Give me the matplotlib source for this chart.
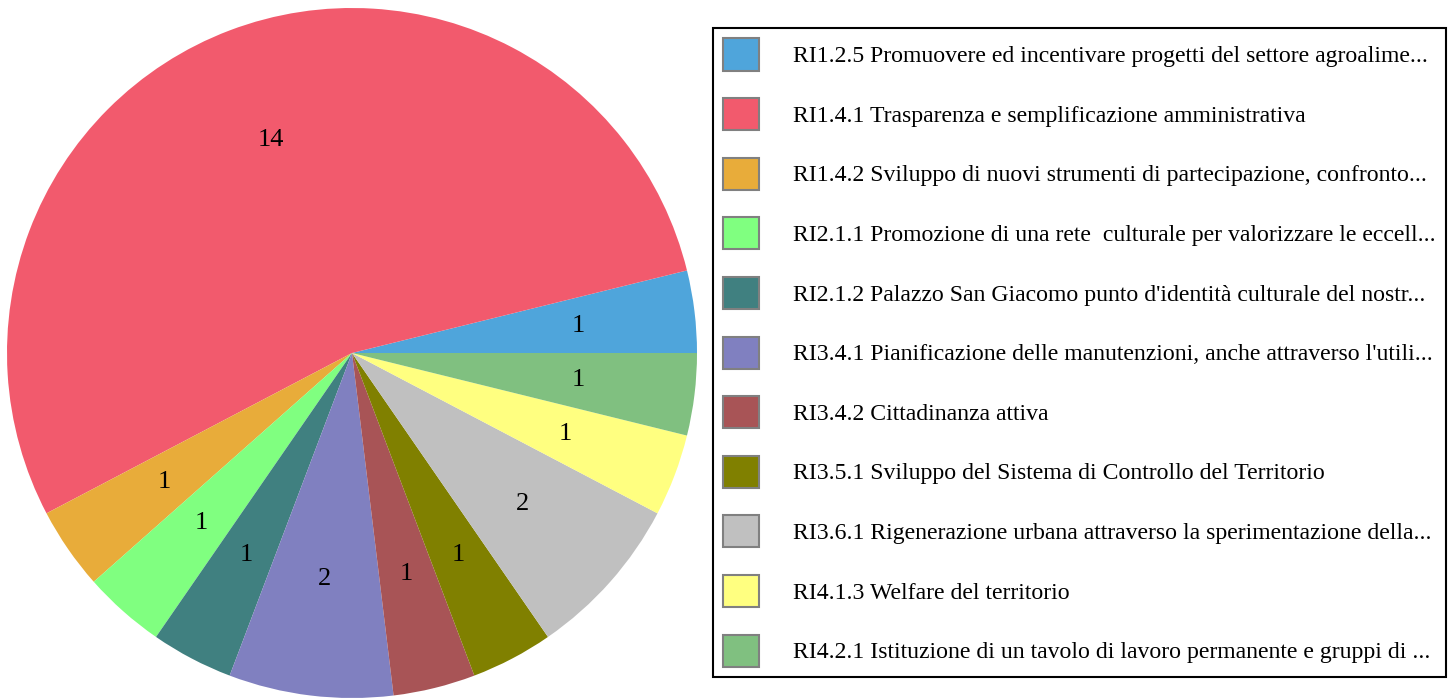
import matplotlib.pyplot as plt

plt.rcParams['font.family'] = ['Liberation Serif', 'DejaVu Serif']

labels = [
    'RI1.2.5 Promuovere ed incentivare progetti del settore agroalime...',
    'RI1.4.1 Trasparenza e semplificazione amministrativa',
    'RI1.4.2 Sviluppo di nuovi strumenti di partecipazione, confronto...',
    'RI2.1.1 Promozione di una rete  culturale per valorizzare le eccell...',
    "RI2.1.2 Palazzo San Giacomo punto d'identità culturale del nostr...",
    "RI3.4.1 Pianificazione delle manutenzioni, anche attraverso l'utili...",
    'RI3.4.2 Cittadinanza attiva',
    'RI3.5.1 Sviluppo del Sistema di Controllo del Territorio',
    'RI3.6.1 Rigenerazione urbana attraverso la sperimentazione della...',
    'RI4.1.3 Welfare del territorio',
    'RI4.2.1 Istituzione di un tavolo di lavoro permanente e gruppi di ...',
]
values = [1, 14, 1, 1, 1, 2, 1, 1, 2, 1, 1]
colors = ['#4fa5db', '#f25a6d', '#e8ac3a', '#80ff80', '#408080', '#8080c0',
          '#a85456', '#808000', '#c0c0c0', '#ffff80', '#80c080']

W, H = 1456, 698
fig = plt.figure(figsize=(W / 100, H / 100), dpi=100)
ax = fig.add_axes([7 / W, 1 - 698 / H, 690 / W, 690 / H])

wedges, texts = ax.pie(values, colors=colors, startangle=0, counterclock=True,
                       labels=[str(v) for v in values], labeldistance=0.66,
                       wedgeprops=dict(linewidth=0),
                       textprops=dict(fontsize=19))
for t in texts:
    t.set_horizontalalignment('center')
    t.set_verticalalignment('center')
ax.set_xlim(-1, 1)
ax.set_ylim(-1, 1)
ax.set_aspect('equal')
ax.axis('off')

leg = fig.legend(wedges, labels, loc='upper left',
                 bbox_to_anchor=(713 / W, 1 - 28 / H), borderaxespad=0,
                 fontsize=17.1, handlelength=1.5, handleheight=1.70,
                 labelspacing=1.16, handletextpad=1.44, borderpad=0.44,
                 fancybox=False, framealpha=1, edgecolor='black')
leg.get_frame().set_linewidth(1.5)
for p in leg.get_patches():
    p.set_edgecolor('#808080')
    p.set_linewidth(1.5)

fig.savefig('out.png', dpi=100)
